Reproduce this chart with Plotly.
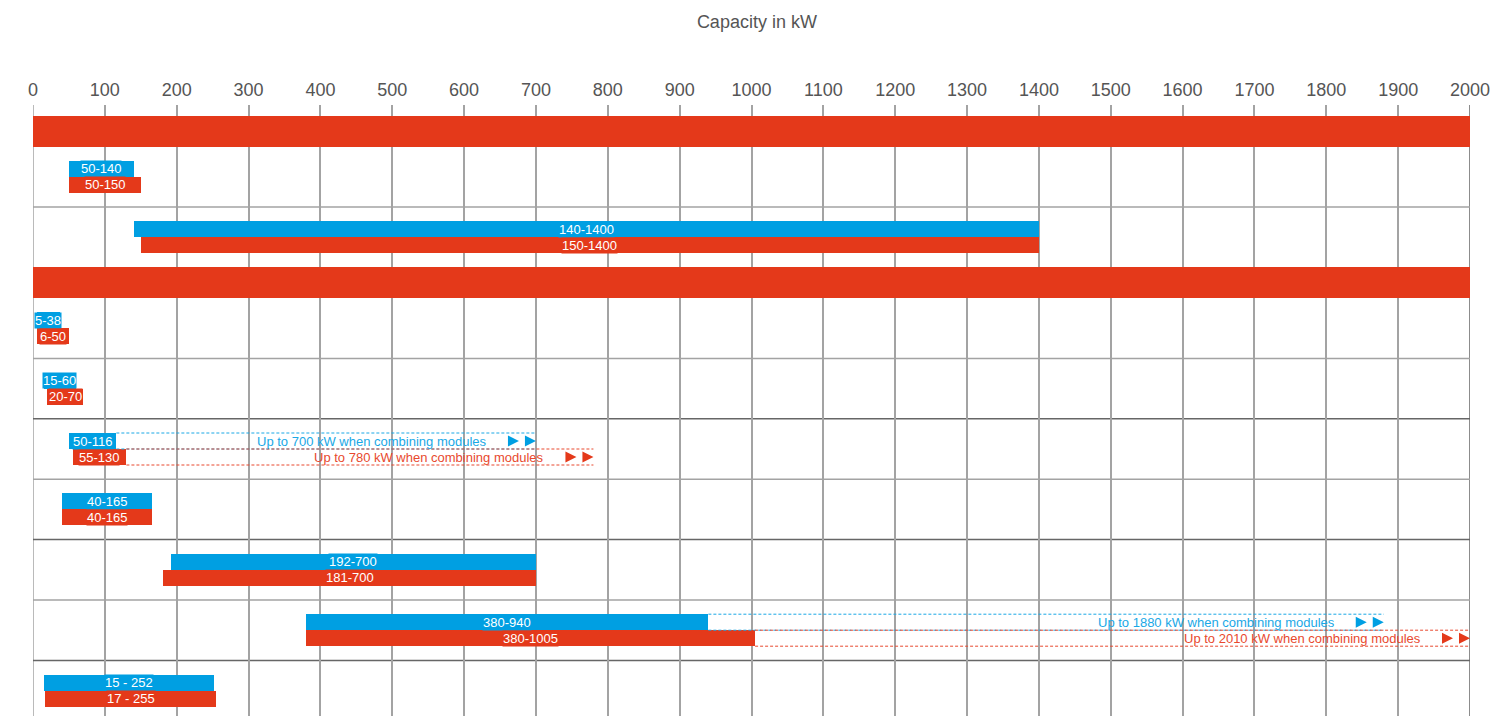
import plotly.graph_objects as go

# Capacity range of each model row in kW (blue = first variant, red = second variant)
blue_low = [50, 140, 5, 15, 50, 40, 192, 380, 15]
blue_high = [140, 1400, 38, 60, 116, 165, 700, 940, 252]
red_low = [50, 150, 6, 20, 55, 40, 181, 380, 17]
red_high = [150, 1400, 50, 70, 130, 165, 700, 1005, 255]

# Upper limit reachable when combining modules (None = no extension)
blue_combined = [None, None, None, None, 700, None, None, 1880, None]
red_combined = [None, None, None, None, 780, None, None, 2010, None]

# Separator used inside the bar labels
label_sep = ["-", "-", "-", "-", "-", "-", "-", "-", " - "]

# Vertical order: "G" is a full-width group band, integers are model rows
row_sequence = ["G", 0, 1, "G", 2, 3, 4, 5, 6, 7, 8]
# Rule drawn under each model row
rule_after = ["light", None, "light", "dark", "light", "dark", "light", "dark", None]

# Axis
x_max = 2000
x_ticks = list(range(0, 2001, 100))
axis_title = "Capacity in kW"

RED = "#E4391A"
BLUE = "#009FE2"
RED_LINE = "#E8492E"
BLUE_LINE = "#1AA8E6"
TEXT_GREY = "#555555"
GRID = "#A3A3A3"
DARK_RULE = "#666666"
FONT = "Liberation Sans, Arial, Helvetica, sans-serif"

# Vertical layout in pixels inside the plotting area
W, H = 1503, 716
M_L, M_R, M_T = 33, 33, 105
PLOT_H = H - M_T
TOP_PAD = 11
GROUP_H = 30.6
ROW_H = 60.4
BAR_H = 16

group_centers = []
blue_y = {}
red_y = {}
rule_y = {}
y = TOP_PAD
for item in row_sequence:
    if item == "G":
        group_centers.append(y + GROUP_H / 2)
        y += GROUP_H
    else:
        c = y + ROW_H / 2
        blue_y[item] = c - BAR_H / 2
        red_y[item] = c + BAR_H / 2
        y += ROW_H
        rule_y[item] = y

n = len(blue_low)
rows = list(range(n))

fig = go.Figure()

# Full-width group bands
fig.add_trace(go.Bar(
    orientation="h",
    base=[0] * len(group_centers),
    x=[x_max] * len(group_centers),
    y=group_centers,
    width=[GROUP_H] * len(group_centers),
    marker=dict(color=RED, line=dict(width=0)),
    hoverinfo="skip",
    showlegend=False,
))

# Blue and red capacity bars
fig.add_trace(go.Bar(
    orientation="h",
    base=blue_low,
    x=[blue_high[i] - blue_low[i] for i in rows],
    y=[blue_y[i] for i in rows],
    width=[BAR_H] * n,
    marker=dict(color=BLUE, line=dict(width=0)),
    hoverinfo="skip",
    showlegend=False,
))
fig.add_trace(go.Bar(
    orientation="h",
    base=red_low,
    x=[red_high[i] - red_low[i] for i in rows],
    y=[red_y[i] for i in rows],
    width=[BAR_H] * n,
    marker=dict(color=RED, line=dict(width=0)),
    hoverinfo="skip",
    showlegend=False,
))

shapes = []
annotations = []

# Row rules
for i in rows:
    kind = rule_after[i]
    if kind is None:
        continue
    shapes.append(dict(
        type="line", layer="below", xref="x", yref="y",
        x0=0, x1=x_max, y0=rule_y[i], y1=rule_y[i],
        line=dict(color=GRID if kind == "light" else DARK_RULE, width=1.5),
    ))

# Plot edges
shapes.append(dict(type="line", layer="below", xref="x", yref="paper",
                   x0=0, x1=0, y0=0, y1=1, line=dict(color=GRID, width=1.5)))
shapes.append(dict(type="line", layer="below", xref="x", yref="paper",
                   x0=x_max, x1=x_max, y0=0, y1=1, line=dict(color=DARK_RULE, width=1.5)))

# Bar value labels
for i in rows:
    for lo, hi, yy, col in ((blue_low[i], blue_high[i], blue_y[i], BLUE),
                            (red_low[i], red_high[i], red_y[i], RED)):
        annotations.append(dict(
            x=(lo + hi) / 2, y=yy, xref="x", yref="y",
            text=f"{lo}{label_sep[i]}{hi}",
            showarrow=False, xanchor="center", yanchor="middle",
            bgcolor=col, borderpad=0,
            font=dict(family=FONT, size=13, color="#FFFFFF"),
        ))


def add_extension(start, target, yc, line_col, fill_col):
    end = min(target, x_max)
    for edge in (yc - BAR_H / 2, yc + BAR_H / 2):
        shapes.append(dict(
            type="line", layer="above", xref="x", yref="y",
            x0=start, x1=end, y0=edge, y1=edge,
            line=dict(color=line_col, width=1, dash="3px,2px"),
        ))
    for off in (0, -17):
        shapes.append(dict(
            type="path", layer="above", xref="x", yref="y",
            xsizemode="pixel", ysizemode="pixel", xanchor=end, yanchor=yc,
            path=f"M {off - 11},-5.5 L {off},0 L {off - 11},5.5 Z",
            fillcolor=fill_col, line=dict(width=0),
        ))
    annotations.append(dict(
        x=end, y=yc, xref="x", yref="y", xanchor="right", yanchor="middle",
        xshift=-47, showarrow=False,
        text=f"Up to {target} kW when combining modules",
        font=dict(family=FONT, size=13, color=line_col),
    ))


for i in rows:
    if blue_combined[i] is not None:
        add_extension(blue_high[i], blue_combined[i], blue_y[i], BLUE_LINE, BLUE)
for i in rows:
    if red_combined[i] is not None:
        add_extension(red_high[i], red_combined[i], red_y[i], RED_LINE, RED)

fig.update_layout(
    width=W, height=H,
    margin=dict(l=M_L, r=M_R, t=M_T, b=0, pad=0),
    paper_bgcolor="#FFFFFF", plot_bgcolor="#FFFFFF",
    barmode="overlay", bargap=0,
    title=dict(
        text=axis_title, x=0.5036, xref="container", xanchor="center",
        y=1 - 22 / H, yref="container", yanchor="middle",
        font=dict(family=FONT, size=18, color=TEXT_GREY),
    ),
    xaxis=dict(
        side="top", range=[0, x_max], tickvals=x_ticks,
        ticktext=[str(v) for v in x_ticks],
        showgrid=True, gridcolor=GRID, gridwidth=1.5,
        zeroline=False, showline=False, ticks="",
        ticklabelstandoff=4,
        tickfont=dict(family=FONT, size=18, color=TEXT_GREY),
        fixedrange=True,
    ),
    yaxis=dict(
        range=[PLOT_H, 0], showgrid=False, zeroline=False,
        showticklabels=False, ticks="", fixedrange=True,
    ),
    shapes=shapes,
    annotations=annotations,
    showlegend=False,
)

fig.write_html("out.html")
